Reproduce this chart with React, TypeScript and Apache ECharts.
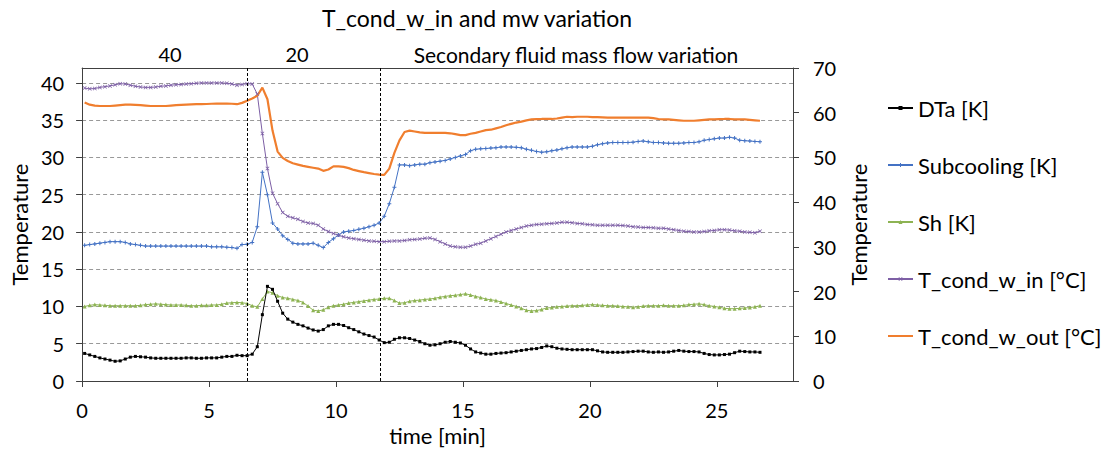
import React, { useEffect, useRef } from "react";
import * as echarts from "echarts";

const TITLE = "T_cond_w_in and mw variation";
const TOP_LABELS = ["40", "20", "Secondary fluid mass flow variation"];
const PHASE_BOUNDS = [6.5, 11.75];
const X_TICKS = [0, 5, 10, 15, 20, 25];
const Y_LEFT_TICKS = [0, 5, 10, 15, 20, 25, 30, 35, 40];
const Y_RIGHT_TICKS = [0, 10, 20, 30, 40, 50, 60, 70];
const SERIES_NAMES = ["DTa [K]", "Subcooling [K]", "Sh [K]", "T_cond_w_in [°C]", "T_cond_w_out [°C]"];

const TIME = [
  0.1, 0.3, 0.5, 0.7, 0.9, 1.1, 1.3, 1.5, 1.7, 1.9,
  2.1, 2.3, 2.5, 2.7, 2.9, 3.1, 3.3, 3.5, 3.7, 3.9,
  4.1, 4.3, 4.5, 4.7, 4.9, 5.1, 5.3, 5.5, 5.7, 5.9,
  6.1, 6.3, 6.5, 6.7, 6.9, 7.1, 7.3, 7.5, 7.7, 7.9,
  8.1, 8.3, 8.5, 8.7, 8.9, 9.1, 9.3, 9.5, 9.7, 9.9,
  10.1, 10.3, 10.5, 10.7, 10.9, 11.1, 11.3, 11.5, 11.7, 11.9,
  12.1, 12.3, 12.5, 12.7, 12.9, 13.1, 13.3, 13.5, 13.7, 13.9,
  14.1, 14.3, 14.5, 14.7, 14.9, 15.1, 15.3, 15.5, 15.7, 15.9,
  16.1, 16.3, 16.5, 16.7, 16.9, 17.1, 17.3, 17.5, 17.7, 17.9,
  18.1, 18.3, 18.5, 18.7, 18.9, 19.1, 19.3, 19.5, 19.7, 19.9,
  20.1, 20.3, 20.5, 20.7, 20.9, 21.1, 21.3, 21.5, 21.7, 21.9,
  22.1, 22.3, 22.5, 22.7, 22.9, 23.1, 23.3, 23.5, 23.7, 23.9,
  24.1, 24.3, 24.5, 24.7, 24.9, 25.1, 25.3, 25.5, 25.7, 25.9,
  26.1, 26.3, 26.5, 26.7,
];

const DTA = [
  3.7, 3.5, 3.3, 3.1, 2.95, 2.8, 2.65, 2.7, 2.95, 3.2,
  3.3, 3.25, 3.2, 3.1, 3.05, 3.05, 3.05, 3.05, 3.05, 3.05,
  3.1, 3.1, 3.05, 3.05, 3.1, 3.1, 3.1, 3.2, 3.3, 3.3,
  3.45, 3.4, 3.4, 3.6, 4.6, 8.9, 12.7, 12.3, 10.7, 9.1,
  8.3, 7.9, 7.6, 7.4, 7.1, 6.85, 6.7, 6.9, 7.4, 7.6,
  7.6, 7.45, 7.15, 6.9, 6.6, 6.3, 6.1, 5.9, 5.5, 5.15,
  5.2, 5.6, 5.8, 5.8, 5.7, 5.5, 5.3, 5.0, 4.8, 4.85,
  5.0, 5.2, 5.3, 5.2, 5.1, 4.8, 4.3, 3.9, 3.75, 3.6,
  3.6, 3.7, 3.75, 3.8, 3.9, 4.0, 4.1, 4.2, 4.3, 4.35,
  4.5, 4.7, 4.6, 4.4, 4.3, 4.25, 4.2, 4.2, 4.2, 4.2,
  4.2, 4.05, 3.9, 3.85, 3.85, 3.85, 3.85, 3.9, 3.95, 4.0,
  4.0, 3.9, 3.85, 3.9, 3.85, 3.9, 4.0, 4.1, 4.0, 3.95,
  3.95, 3.9, 3.7, 3.55, 3.5, 3.5, 3.55, 3.6, 3.8, 4.0,
  3.95, 3.9, 3.9, 3.85,
];

const SUBCOOLING = [
  18.2, 18.3, 18.4, 18.5, 18.6, 18.7, 18.7, 18.7, 18.6, 18.4,
  18.3, 18.2, 18.1, 18.1, 18.1, 18.1, 18.1, 18.1, 18.1, 18.1,
  18.1, 18.1, 18.1, 18.1, 18.1, 18.0, 18.0, 18.0, 17.95, 17.9,
  17.8, 18.3, 18.35, 18.6, 20.7, 28.0, 25.0, 21.2, 20.4, 19.5,
  19.0, 18.5, 18.4, 18.4, 18.4, 18.5, 18.2, 17.9, 18.6, 19.1,
  19.6, 20.0, 20.1, 20.2, 20.35, 20.5, 20.7, 20.9, 21.2, 22.1,
  23.8, 26.0, 29.0, 29.0, 28.9, 29.0, 29.1, 29.1, 29.3, 29.4,
  29.5, 29.6, 29.8, 30.0, 30.2, 30.4, 30.9, 31.1, 31.15, 31.2,
  31.25, 31.3, 31.4, 31.4, 31.4, 31.35, 31.3, 31.1, 30.95, 30.8,
  30.7, 30.75, 30.9, 31.0, 31.15, 31.3, 31.4, 31.4, 31.4, 31.4,
  31.5, 31.7, 31.85, 31.95, 32.0, 32.0, 32.0, 32.0, 32.05, 32.15,
  32.2, 32.1, 32.0, 32.0, 31.95, 31.9, 31.9, 31.9, 31.95, 32.0,
  32.0, 32.1, 32.3, 32.4, 32.5, 32.6, 32.6, 32.7, 32.6, 32.3,
  32.25, 32.2, 32.15, 32.1,
];

const SH = [
  10.0, 10.15, 10.25, 10.2, 10.15, 10.1, 10.1, 10.1, 10.1, 10.1,
  10.1, 10.15, 10.25, 10.3, 10.35, 10.3, 10.25, 10.2, 10.2, 10.2,
  10.15, 10.1, 10.1, 10.15, 10.15, 10.2, 10.2, 10.3, 10.45, 10.5,
  10.55, 10.5, 10.4, 10.1, 9.95, 11.0, 12.0, 11.85, 11.45, 11.2,
  11.1, 10.95, 10.8, 10.55, 10.05, 9.5, 9.4, 9.55, 9.9, 10.1,
  10.2, 10.3, 10.45, 10.55, 10.65, 10.75, 10.85, 10.95, 11.0, 11.1,
  11.1, 10.8, 10.45, 10.5, 10.7, 10.8, 10.85, 10.95, 11.0, 11.1,
  11.25, 11.35, 11.45, 11.5, 11.6, 11.7, 11.55, 11.35, 11.2, 11.0,
  10.9, 10.8, 10.6, 10.4, 10.2, 10.0, 9.75, 9.5, 9.4, 9.45,
  9.6, 9.8, 9.85, 9.95, 10.0, 10.05, 10.1, 10.1, 10.15, 10.2,
  10.25, 10.2, 10.15, 10.1, 10.1, 10.05, 10.0, 9.95, 9.9, 9.95,
  10.05, 10.1, 10.1, 10.1, 10.15, 10.1, 10.1, 10.1, 10.15, 10.25,
  10.3, 10.35, 10.25, 10.1, 10.0, 9.9, 9.75, 9.7, 9.7, 9.75,
  9.8, 9.85, 9.95, 10.1,
];

const T_COND_W_IN = [
  39.3, 39.2, 39.25, 39.4, 39.5, 39.6, 39.75, 39.9, 39.85, 39.7,
  39.55, 39.45, 39.4, 39.4, 39.45, 39.55, 39.6, 39.7, 39.75, 39.8,
  39.85, 39.9, 39.95, 40.0, 40.0, 40.0, 40.0, 40.0, 39.95, 39.85,
  39.7, 39.8, 39.9, 39.85, 38.5, 33.2, 28.5, 25.2, 23.8, 22.6,
  22.1, 21.9, 21.7, 21.4, 21.2, 21.15, 20.9, 20.4, 20.05, 19.8,
  19.55, 19.35, 19.2, 19.1, 19.0, 18.9, 18.8, 18.75, 18.7, 18.7,
  18.75, 18.8, 18.8, 18.85, 18.95, 19.0, 19.05, 19.15, 19.2, 19.0,
  18.7, 18.4, 18.1, 18.0, 17.95, 17.95, 18.1, 18.35, 18.5, 18.8,
  19.1, 19.4, 19.7, 20.0, 20.2, 20.4, 20.6, 20.8, 20.9, 21.0,
  21.05, 21.1, 21.15, 21.2, 21.3, 21.3, 21.25, 21.15, 21.1, 21.0,
  20.95, 20.9, 20.9, 20.9, 20.9, 20.9, 20.85, 20.8, 20.7, 20.65,
  20.6, 20.6, 20.55, 20.5, 20.5, 20.4, 20.3, 20.2, 20.1, 20.05,
  20.0, 20.0, 20.05, 20.15, 20.2, 20.3, 20.3, 20.25, 20.15, 20.1,
  20.0, 19.95, 19.9, 20.1,
];

const T_COND_W_OUT = [
  62.3, 61.8, 61.6, 61.5, 61.5, 61.5, 61.6, 61.7, 61.8, 61.8,
  61.75, 61.7, 61.6, 61.5, 61.5, 61.5, 61.5, 61.6, 61.7, 61.75,
  61.8, 61.85, 61.9, 61.9, 61.95, 62.0, 62.05, 62.05, 62.05, 62.0,
  61.9, 62.2, 62.7, 63.2, 63.8, 65.6, 63.0, 56.0, 51.3, 49.9,
  49.2, 48.7, 48.4, 48.1, 47.9, 47.7, 47.5, 47.0, 47.3, 48.0,
  48.0, 47.9, 47.6, 47.2, 46.95, 46.7, 46.5, 46.3, 46.15, 46.1,
  47.5, 51.0, 53.8, 55.7, 56.0, 55.8, 55.6, 55.5, 55.5, 55.5,
  55.5, 55.5, 55.4, 55.2, 55.0, 55.0, 55.3, 55.5, 55.8, 56.1,
  56.2, 56.5, 56.8, 57.2, 57.5, 57.8, 58.0, 58.3, 58.5, 58.55,
  58.6, 58.6, 58.6, 58.7, 58.9, 59.1, 59.0, 59.1, 59.1, 59.1,
  59.0, 59.0, 58.95, 58.9, 58.9, 58.9, 58.9, 58.9, 58.9, 58.9,
  58.9, 58.9, 58.8, 58.6, 58.5, 58.5, 58.4, 58.3, 58.2, 58.2,
  58.2, 58.3, 58.4, 58.5, 58.5, 58.55, 58.6, 58.6, 58.5, 58.5,
  58.5, 58.4, 58.3, 58.2,
];

const FONT = "Lato, 'Open Sans', sans-serif";
const PLUS = "path://M3,0H5V3H8V5H5V8H3V5H0V3H3Z";
const CROSS = "path://M0,1L1,0L4,3L7,0L8,1L5,4L8,7L7,8L4,5L1,8L0,7L3,4Z";

const pairs = (ys: number[]) => TIME.map((t, i) => [t, ys[i]]);

export default function App() {
  const ref = useRef<HTMLDivElement>(null);
  useEffect(() => {
    if (!ref.current) return;
    const chart = echarts.init(ref.current, undefined, { renderer: "svg" });
    const axisColor = "#404040";
    const labelStyle = { fontFamily: FONT, fontSize: 20, color: "#000" };
    const centered = (text: string, x: number, y: number, size: number) => ({
      type: "text",
      x,
      y,
      style: { text, font: `${size}px ${FONT}`, fill: "#000", align: "center", verticalAlign: "middle", textAlign: "center", textVerticalAlign: "middle" },
    });
    const lineSeries = (name: string, ys: number[], color: string, symbol: string, size: number, extra: any = {}) => ({
      name,
      type: "line",
      data: pairs(ys),
      xAxisIndex: 0,
      yAxisIndex: 0,
      symbol,
      symbolSize: size,
      showSymbol: true,
      lineStyle: { color, width: 1 },
      itemStyle: { color },
      ...extra,
    });
    chart.setOption({
      animation: false,
      backgroundColor: "#fff",
      grid: { left: 82, right: 320, top: 68, bottom: 73, containLabel: false },
      graphic: [
        centered(TITLE, 477, 18, 23),
        centered(TOP_LABELS[0], 170, 54, 20),
        centered(TOP_LABELS[1], 297, 54, 20),
        centered(TOP_LABELS[2], 576, 54, 21),
      ],
      legend: {
        orient: "vertical",
        left: 882,
        top: 92,
        itemWidth: 25,
        itemHeight: 5,
        itemGap: 35,
        textStyle: { fontFamily: FONT, fontSize: 22, color: "#000", lineHeight: 22 },
        data: [
          SERIES_NAMES[0],
          SERIES_NAMES[1],
          SERIES_NAMES[2],
          SERIES_NAMES[3],
          { name: SERIES_NAMES[4], itemStyle: { opacity: 0 } },
        ],
      },
      xAxis: [
        {
          type: "value",
          min: 0,
          max: 28,
          interval: 5,
          position: "bottom",
          name: "time [min]",
          nameLocation: "middle",
          nameGap: 43,
          nameTextStyle: { fontFamily: FONT, fontSize: 22, color: "#000" },
          axisLine: { show: true, onZero: false, lineStyle: { color: axisColor, width: 1 } },
          axisTick: { show: true, length: 6, customValues: X_TICKS, lineStyle: { color: axisColor } },
          axisLabel: { ...labelStyle, margin: 19, customValues: X_TICKS },
          splitLine: { show: false },
        },
        {
          type: "value",
          min: 0,
          max: 28,
          position: "top",
          axisLine: { show: true, onZero: false, lineStyle: { color: axisColor, width: 1 } },
          axisTick: { show: false },
          axisLabel: { show: false },
          splitLine: { show: false },
        },
      ],
      yAxis: [
        {
          type: "value",
          min: 0,
          max: 42,
          interval: 5,
          position: "left",
          name: "Temperature",
          nameLocation: "middle",
          nameGap: 45,
          nameTextStyle: { fontFamily: FONT, fontSize: 22, color: "#000" },
          axisLine: { show: true, onZero: false, lineStyle: { color: axisColor, width: 1 } },
          axisTick: { show: true, length: 6, customValues: Y_LEFT_TICKS, lineStyle: { color: axisColor } },
          axisLabel: { ...labelStyle, margin: 18, customValues: Y_LEFT_TICKS },
          splitLine: { show: true, lineStyle: { color: "#999", type: [4, 3], width: 1 } },
        },
        {
          type: "value",
          min: 0,
          max: 70,
          interval: 10,
          position: "right",
          name: "Temperature",
          nameLocation: "middle",
          nameGap: 54,
          nameTextStyle: { fontFamily: FONT, fontSize: 22, color: "#000" },
          axisLine: { show: true, onZero: false, lineStyle: { color: axisColor, width: 1 } },
          axisTick: { show: true, length: 6, customValues: Y_RIGHT_TICKS, lineStyle: { color: axisColor } },
          axisLabel: { ...labelStyle, margin: 20, customValues: Y_RIGHT_TICKS },
          splitLine: { show: false },
        },
      ],
      series: [
        lineSeries(SERIES_NAMES[0], DTA, "#000000", "rect", 3, {
          z: 5,
          markLine: {
            silent: true,
            symbol: ["none", "none"],
            label: { show: false },
            lineStyle: { color: "#000", type: [3, 2], width: 1 },
            data: PHASE_BOUNDS.map((v) => ({ xAxis: v })),
          },
        }),
        lineSeries(SERIES_NAMES[1], SUBCOOLING, "#4472C4", PLUS, 4),
        lineSeries(SERIES_NAMES[2], SH, "#8DB353", "triangle", 4),
        lineSeries(SERIES_NAMES[3], T_COND_W_IN, "#7D5FA5", CROSS, 4),
        {
          name: SERIES_NAMES[4],
          type: "line",
          data: pairs(T_COND_W_OUT),
          xAxisIndex: 0,
          yAxisIndex: 1,
          symbol: "none",
          showSymbol: false,
          lineStyle: { color: "#F07E2E", width: 2.2 },
          itemStyle: { color: "#F07E2E" },
        },
      ],
    });
    return () => chart.dispose();
  }, []);
  return <div ref={ref} style={{ position: "fixed", left: 0, top: 0, width: 1113, height: 454 }} />;
}
